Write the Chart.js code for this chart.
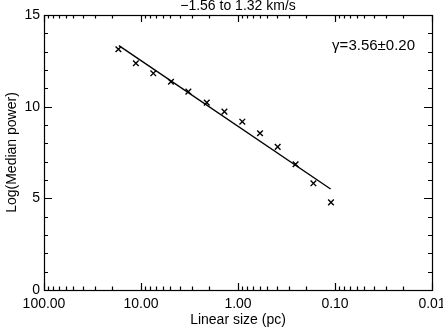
<!DOCTYPE html>
<html>
<head>
<meta charset="utf-8">
<script src="https://cdn.jsdelivr.net/npm/chart.js@4/dist/chart.umd.min.js"></script>
<style>
  html, body { margin: 0; padding: 0; background: #fff; }
  #wrap { width: 443px; height: 330px; }
</style>
</head>
<body>
<div id="wrap"><canvas id="c" width="443" height="330"></canvas></div>
<script>
// measured points (linear size in pc, log of median power)
const sizes = [17.1, 11.3, 7.47, 4.91, 3.25, 2.10, 1.38, 0.903, 0.593, 0.390, 0.255, 0.167, 0.110];
const logPower = [13.13, 12.37, 11.82, 11.36, 10.82, 10.22, 9.73, 9.18, 8.55, 7.81, 6.86, 5.82, 4.78];
// power-law fit end points
const fitSizes = [16.9, 0.111];
const fitPower = [13.33, 5.51];
// axis labels
const xMajor = [100, 10, 1, 0.1, 0.01];
const yMajor = [0, 5, 10, 15];
const titleText = '\u22121.56 to 1.32 km/s';
const fitText = '\u03b3=3.56\u00b10.20';

const FONT = '"Liberation Sans", Arial, Helvetica, sans-serif';

// every 1..9 x 10^n between 0.01 and 100
const xAll = [];
for (let e = -2; e < 2; e++) {
  for (let k = 1; k < 10; k++) xAll.push(+(k * Math.pow(10, e)).toPrecision(3));
}
xAll.push(100);
const yAll = [];
for (let v = 0; v <= 15; v++) yAll.push(v);

// IDL-style inward ticks on all four sides, box and extra text
const idlFrame = {
  id: 'idlFrame',
  afterDatasetsDraw(chart) {
    const { ctx, chartArea: a } = chart;
    const xs = chart.scales.x, ys = chart.scales.y;
    ctx.save();
    ctx.strokeStyle = '#000';
    ctx.lineWidth = 1.2;
    ctx.strokeRect(a.left + 0.5, a.top + 0.5, a.right - a.left, a.bottom - a.top);
    ctx.beginPath();
    xAll.forEach(v => {
      const px = Math.round(xs.getPixelForValue(v)) + 0.5;
      const len = xMajor.includes(v) ? 7 : 3.5;
      ctx.moveTo(px, a.bottom); ctx.lineTo(px, a.bottom - len);
      ctx.moveTo(px, a.top); ctx.lineTo(px, a.top + len);
    });
    yAll.forEach(v => {
      const py = Math.round(ys.getPixelForValue(v)) + 0.5;
      const len = v % 5 === 0 ? 8 : 4;
      ctx.moveTo(a.left, py); ctx.lineTo(a.left + len, py);
      ctx.moveTo(a.right, py); ctx.lineTo(a.right - len, py);
    });
    ctx.stroke();

    ctx.fillStyle = '#000';
    ctx.font = '14px ' + FONT;
    ctx.textAlign = 'center';
    ctx.textBaseline = 'middle';
    ctx.fillText(titleText, (a.left + a.right) / 2, 6);
    ctx.font = '15px ' + FONT;
    ctx.textAlign = 'right';
    ctx.fillText(fitText, 415, 46);
    ctx.restore();
  }
};

new Chart(document.getElementById('c'), {
  type: 'scatter',
  data: {
    datasets: [
      {
        data: sizes.map((s, i) => ({ x: s, y: logPower[i] })),
        pointStyle: 'crossRot',
        pointRadius: 4,
        borderColor: '#000',
        borderWidth: 1.4,
        showLine: false
      },
      {
        data: fitSizes.map((s, i) => ({ x: s, y: fitPower[i] })),
        showLine: true,
        borderColor: '#000',
        borderWidth: 1.4,
        pointRadius: 0
      }
    ]
  },
  options: {
    responsive: false,
    animation: false,
    events: [],
    layout: { padding: { top: 15, right: 11, left: 0, bottom: 0 } },
    plugins: { legend: { display: false }, tooltip: { enabled: false } },
    scales: {
      x: {
        type: 'logarithmic',
        reverse: true,
        min: 0.01,
        max: 100,
        grid: { display: false, drawTicks: false },
        border: { display: false },
        afterBuildTicks: s => { s.ticks = xAll.map(v => ({ value: v })); },
        afterFit: s => { s.height = 40; s.paddingLeft = 0; s.paddingRight = 0; },
        ticks: {
          autoSkip: false,
          maxRotation: 0,
          padding: 6,
          color: '#000',
          font: { family: FONT, size: 14 },
          callback: v => (xMajor.includes(v) ? v.toFixed(2) : '')
        },
        title: {
          display: true,
          text: 'Linear size (pc)',
          color: '#000',
          font: { family: FONT, size: 14 },
          padding: { top: 0, bottom: 1 }
        }
      },
      y: {
        min: 0,
        max: 15,
        grid: { display: false, drawTicks: false },
        border: { display: false },
        afterBuildTicks: s => { s.ticks = yMajor.map(v => ({ value: v })); },
        afterFit: s => { s.width = 44; s.paddingTop = 0; s.paddingBottom = 0; },
        ticks: {
          padding: 4,
          color: '#000',
          font: { family: FONT, size: 14 }
        },
        title: {
          display: true,
          text: 'Log(Median power)',
          color: '#000',
          font: { family: FONT, size: 14 },
          padding: { top: 4, bottom: 0 }
        }
      }
    }
  },
  plugins: [idlFrame]
});
</script>
</body>
</html>
